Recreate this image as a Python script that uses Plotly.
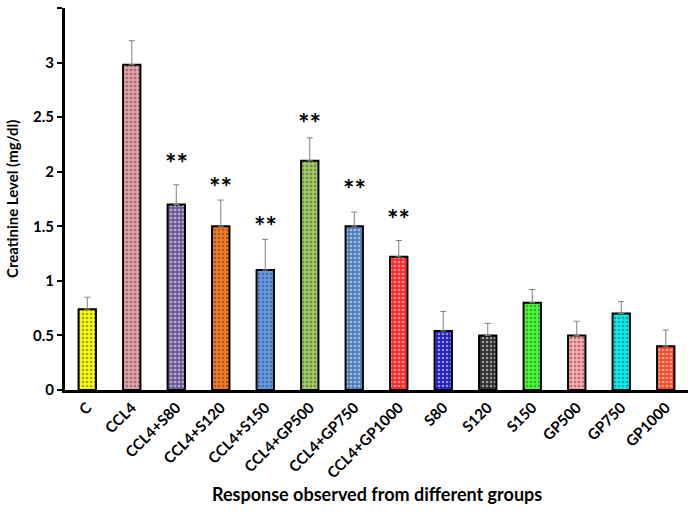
import plotly.graph_objects as go

categories = ["C", "CCL4", "CCL4+S80", "CCL4+S120", "CCL4+S150", "CCL4+GP500",
              "CCL4+GP750", "CCL4+GP1000", "S80", "S120", "S150", "GP500", "GP750", "GP1000"]
means = [0.74, 2.98, 1.70, 1.50, 1.10, 2.10, 1.50, 1.22, 0.54, 0.50, 0.80, 0.50, 0.70, 0.40]
errors = [0.11, 0.22, 0.18, 0.24, 0.28, 0.21, 0.13, 0.15, 0.18, 0.11, 0.12, 0.13, 0.11, 0.15]
colors = ["#FFFF00", "#E8A0A8", "#6E5A96", "#F57A20", "#5F9BEA", "#A0CC60",
          "#4F7DBA", "#FF2A2A", "#2020C0", "#303030", "#44FF33", "#FFAAAA", "#00F0F0", "#FF4A28"]
star_labels = ["", "", "**", "**", "**", "**", "**", "**", "", "", "", "", "", ""]
star_y = [None, None, 2.08, 1.86, 1.51, 2.45, 1.85, 1.57, None, None, None, None, None, None]
y_ticks = [0, 0.5, 1, 1.5, 2, 2.5, 3, 3.5]
y_ticklabels = ["0", "0.5", "1", "1.5", "2", "2.5", "3", "3.5"]

FONT = "Lato"
W, H = 691, 515
ML, MR, MT, MB = 65, 3, 8, 125

fig = go.Figure()
fig.add_trace(go.Bar(
    x=categories, y=means, width=0.39,
    marker=dict(
        color=colors,
        line=dict(color="black", width=2),
        pattern=dict(shape=".", fgcolor="white", bgcolor=colors, size=4, solidity=0.35, fillmode="overlay"),
    ),
    error_y=dict(type="data", array=errors, arrayminus=[0] * len(errors), symmetric=False,
                 color="#808080", thickness=1, width=3),
    showlegend=False,
))

for c, lab, sy in zip(categories, star_labels, star_y):
    if lab:
        fig.add_annotation(x=c, y=sy, text="<b>" + lab + "</b>", showarrow=False,
                           font=dict(family=FONT, size=27, color="black"), yanchor="middle")

# axis titles
fig.add_annotation(xref="paper", yref="paper", x=0.5, y=-(494 - (H - MB)) / (H - MT - MB),
                   text="<b>Response observed from different groups</b>", showarrow=False,
                   font=dict(family=FONT, size=18, color="black"), yanchor="middle")
fig.add_annotation(xref="paper", yref="paper", x=-(ML - 12) / (W - ML - MR), y=0.5,
                   text="<b>Creatinine Level (mg/dl)</b>", showarrow=False, textangle=-90,
                   font=dict(family=FONT, size=15, color="black"), xanchor="center")

fig.update_layout(
    width=W, height=H,
    margin=dict(l=ML, r=MR, t=MT, b=MB, autoexpand=False),
    paper_bgcolor="white", plot_bgcolor="white",
    font=dict(family=FONT, color="black"),
)
fig.update_xaxes(
    showline=True, linecolor="black", linewidth=3, ticks="", automargin=False,
    tickangle=-45, tickfont=dict(family=FONT, size=15, color="black", weight="bold"),
    range=[-0.5, 13.5],
)
fig.update_yaxes(
    range=[0, 3.5], tickvals=y_ticks, ticktext=y_ticklabels, automargin=False,
    showline=True, linecolor="black", linewidth=3, ticks="outside", ticklen=5, tickwidth=2, tickcolor="black",
    showgrid=False, zeroline=False,
    tickfont=dict(family=FONT, size=15, color="black", weight="bold"),
)

fig.write_html("out.html", config={"displayModeBar": False},
               post_script="document.body.style.margin='0';")
